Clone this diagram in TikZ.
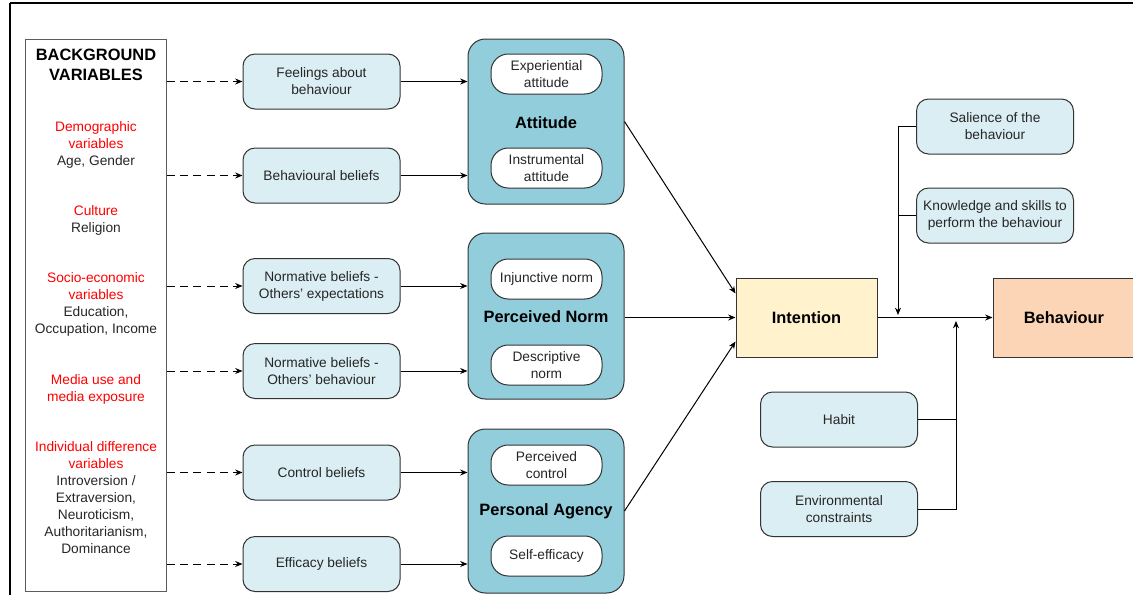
\documentclass[tikz,border=0pt]{standalone}
\usepackage{fontspec}
\setmainfont{Liberation Sans}
\usetikzlibrary{arrows.meta,calc}
\definecolor{paleblue}{HTML}{DAEEF3}
\definecolor{teal}{HTML}{92CDDC}
\definecolor{cream}{HTML}{FFF2CC}
\definecolor{peach}{HTML}{FBD5B5}
\definecolor{ink}{HTML}{262626}
\definecolor{edge}{HTML}{333333}
\newlength\pu
\setlength\pu{0.75pt}
\begin{document}
\begin{tikzpicture}[x=0.75pt,y=-0.75pt,
  every node/.style={font=\fontsize{10.3}{12.75}\selectfont, text=ink},
  bluebox/.style={draw=edge, line width=0.75pt, fill=paleblue, rounded corners=9pt,
    minimum width=157\pu, minimum height=55\pu, align=center, inner sep=1pt},
  groupbox/.style={draw=edge, line width=0.75pt, fill=teal, rounded corners=13pt,
    minimum width=156\pu, align=center},
  whitebox/.style={draw=edge, line width=0.75pt, fill=white, rounded corners=13pt,
    minimum width=111\pu, minimum height=40\pu, align=center, inner sep=1pt},
  headline/.style={font=\fontsize{12.3}{15}\selectfont\bfseries, text=black, align=center},
  bgtext/.style={align=center, inner sep=0pt},
  conn/.style={line width=0.75pt, -{Stealth[length=5.5pt,width=4.5pt]}},
  plain/.style={line width=0.75pt},
  dashconn/.style={conn, dash pattern=on 6pt off 4pt}]
\useasboundingbox (0,0) rectangle (1133,594);

% page frame
\draw[line width=1.6pt] (10,3) -- (1140,3);
\draw[line width=1.6pt] (10,3) -- (10,600);

% background variables column
\node[draw=edge!80, line width=0.75pt, minimum width=141\pu, minimum height=552\pu] (bg) at (95.5,315) {};
\node[headline] (bgtitle) at (96,65) {BACKGROUND\\VARIABLES};
\node[bgtext] (demo) at (96,144.5) {\textcolor{red}{Demographic}\\\textcolor{red}{variables}\\Age, Gender};
\node[bgtext] (cult) at (96,220) {\textcolor{red}{Culture}\\Religion};
\node[bgtext] (socio) at (96,304.5) {\textcolor{red}{Socio-economic}\\\textcolor{red}{variables}\\Education,\\Occupation, Income};
\node[bgtext] (media) at (96,389) {\textcolor{red}{Media use and}\\\textcolor{red}{media exposure}};
\node[bgtext] (indiv) at (96,498) {\textcolor{red}{Individual difference}\\\textcolor{red}{variables}\\Introversion /\\Extraversion,\\Neuroticism,\\Authoritarianism,\\Dominance};

% belief boxes
\node[bluebox] (feel) at (321.5,81.5) {Feelings about\\behaviour};
\node[bluebox] (behb) at (321.5,175.5) {Behavioural beliefs};
\node[bluebox] (nexp) at (321.5,286) {Normative beliefs -\\Others’ expectations};
\node[bluebox] (nbeh) at (321.5,371) {Normative beliefs -\\Others’ behaviour};
\node[bluebox] (ctrl) at (321.5,472.5) {Control beliefs};
\node[bluebox] (effi) at (321.5,564) {Efficacy beliefs};

% construct groups
\node[groupbox, minimum height=165\pu] (att) at (546,121.5) {};
\node[groupbox, minimum height=166\pu] (pn) at (546,316) {};
\node[groupbox, minimum height=164\pu] (pa) at (546,511) {};
\node[headline] (attlabel) at (546,123) {Attitude};
\node[headline] (pnlabel) at (546,317) {Perceived Norm};
\node[headline] (palabel) at (546,511.5) {Personal Agency};
\node[whitebox] (exp) at (546.5,74) {Experiential\\attitude};
\node[whitebox] (ins) at (546.5,168) {Instrumental\\attitude};
\node[whitebox] (inj) at (546.5,279) {Injunctive norm};
\node[whitebox] (des) at (546.5,365) {Descriptive\\norm};
\node[whitebox] (pc) at (546.5,465) {Perceived\\control};
\node[whitebox] (se) at (546.5,556) {Self-efficacy};

% intention and behaviour
\node[draw=edge, line width=0.75pt, fill=cream, minimum width=141\pu, minimum height=79\pu, headline] (int) at (806.5,317.5) {Intention};
\node[draw=edge, line width=0.75pt, fill=peach, minimum width=142\pu, minimum height=79\pu, headline] (beh) at (1064,317.5) {Behaviour};

% moderators
\node[bluebox] (sal) at (995,126.5) {Salience of the\\behaviour};
\node[bluebox] (know) at (995,215.5) {Knowledge and skills to\\perform the behaviour};
\node[bluebox] (hab) at (839,419.5) {Habit};
\node[bluebox] (env) at (839,509) {Environmental\\constraints};

% background variables to beliefs
\foreach \b in {feel,behb,nexp,nbeh,ctrl,effi}
  \draw[dashconn] (bg.east |- \b) -- (\b.west);

% beliefs to constructs
\draw[conn] (feel.east) -- (feel.east -| att.west);
\draw[conn] (behb.east) -- (behb.east -| att.west);
\draw[conn] (nexp.east) -- (nexp.east -| pn.west);
\draw[conn] (nbeh.east) -- (nbeh.east -| pn.west);
\draw[conn] (ctrl.east) -- (ctrl.east -| pa.west);
\draw[conn] (effi.east) -- (effi.east -| pa.west);

% constructs to intention
\draw[conn] (att.east) -- ([yshift=18pt]int.west);
\draw[conn] (pn.east |- int.west) -- (int.west);
\draw[conn] (pa.east) -- ([yshift=-18pt]int.west);

% intention to behaviour, with moderating influences
\draw[conn] (int.east) -- (beh.west);
\coordinate (upper) at (898,315);
\coordinate (lower) at (956,321);
\draw[conn] (sal.west) -| (upper);
\draw[plain] (know.west) -- (know.west -| upper);
\draw[conn] (env.east) -| (lower);
\draw[plain] (hab.east) -- (hab.east -| lower);
\end{tikzpicture}
\end{document}
